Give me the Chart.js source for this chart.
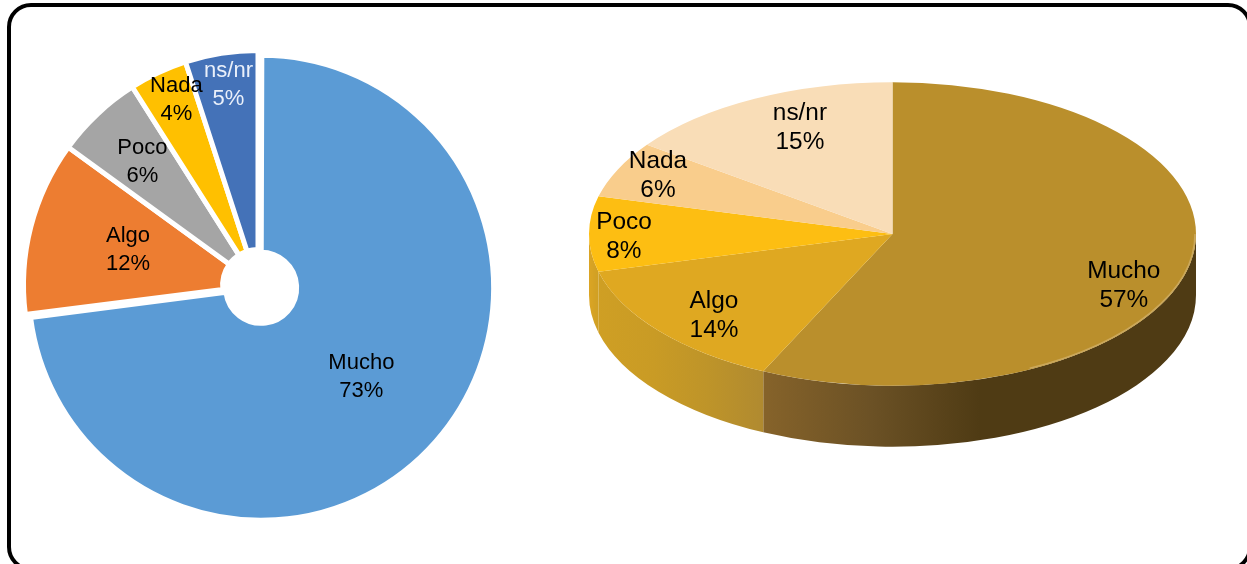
<!DOCTYPE html>
<html>
<head>
<meta charset="utf-8">
<script src="https://cdn.jsdelivr.net/npm/chart.js@4"></script>
<style>
  html, body { margin: 0; padding: 0; background: #fff; overflow: hidden; width: 1247px; height: 564px; }
  #marco { position: absolute; left: 7px; top: 3px; width: 1237px; height: 560px; border: 4px solid #000; border-radius: 24px; }
  #c1, #c2 { position: absolute; }
  #c1 { left: 8px; top: 14px; }
  #c2 { left: 573px; top: 14px; }
</style>
</head>
<body>
<div id="marco"></div>
<canvas id="c1" width="500" height="542"></canvas>
<canvas id="c2" width="639" height="440"></canvas>
<script>
// grafica izquierda
const categorias1 = ["Mucho", "Algo", "Poco", "Nada", "ns/nr"];
const valores1 = [73, 12, 6, 4, 5];
const colores1 = ["#5B9BD5", "#ED7D31", "#A5A5A5", "#FFC000", "#4472B8"];
const colorTexto1 = ["#000", "#000", "#000", "#000", "#EAF0FA"];

// grafica derecha (3D)
const categorias2 = ["Mucho", "Algo", "Poco", "Nada", "ns/nr"];
const valores2 = [57, 14, 8, 6, 15];
const colores2 = ["#BA8F2C", "#DFA821", "#FDBE12", "#F9CD8C", "#F9DDB7"];
// colores de la pared, de izquierda a derecha
const lados2 = [
  ["#86632A", "#6B5125", "#4F3B14", "#4F3B14", "#4F3B14"],
  ["#CF9F24", "#C99B25", "#BE9429", "#B08A30"],
  ["#DBA524", "#CF9F24"],
  ["#DBA524", "#DBA524"],
  ["#DBA524", "#DBA524"]
];

const familia = '"Liberation Sans", Arial, sans-serif';
const inclinacion = 0.5;
const grosor = 61;

function etiqueta(ctx, texto, x, y, color, px, salto) {
  ctx.fillStyle = color;
  ctx.font = px + "px " + familia;
  ctx.textAlign = "center";
  ctx.textBaseline = "middle";
  const partes = texto.split("\n");
  ctx.fillText(partes[0], x, y + 1 - salto);
  ctx.fillText(partes[1], x, y + 1 + salto);
}

// lugar de cada etiqueta dentro de su sector
const radioEtiqueta1 = [0.6036, 0.575, 0.723, 0.866, 0.866];
const giroEtiqueta1 = [0, 1.1, 0.2, 1.5, 0.65];

const etiquetas1 = {
  id: "etiquetas1",
  afterDatasetsUpdate(chart) {
    // el offset de Chart.js agranda el sector, aqui se le devuelve su tamano
    const mucho = chart.getDatasetMeta(0).data[0];
    mucho.outerRadius -= 6.2;
    mucho.innerRadius -= 4.1;
  },
  afterDatasetsDraw(chart) {
    const ctx = chart.ctx;
    chart.getDatasetMeta(0).data.forEach((arco, i) => {
      const medio = (arco.startAngle + arco.endAngle) / 2 + giroEtiqueta1[i] * Math.PI / 180;
      const r = arco.outerRadius * radioEtiqueta1[i];
      etiqueta(ctx, categorias1[i] + "\n" + valores1[i] + "%", arco.x + Math.cos(medio) * r, arco.y + Math.sin(medio) * r, colorTexto1[i], 22, 14);
    });
  }
};

new Chart(document.getElementById("c1"), {
  type: "doughnut",
  data: {
    labels: categorias1,
    datasets: [{
      data: valores1,
      backgroundColor: colores1,
      borderColor: "#fff",
      borderWidth: 5,
      offset: [16.8, 0, 0, 0, 0]
    }]
  },
  options: {
    responsive: false,
    animation: false,
    radius: 234.5,
    cutout: "15.1%",
    plugins: { legend: { display: false }, tooltip: { enabled: false } }
  },
  plugins: [etiquetas1]
});

const radioEtiqueta2 = [0.833, 0.794, 0.885, 0.865, 0.768];
const giroEtiqueta2 = [11.2, -2.6, -0.9, 1.5, 3.6];

const inclinar = {
  id: "inclinar",
  beforeDatasetsDraw(chart) {
    const ctx = chart.ctx;
    const arcos = chart.getDatasetMeta(0).data;
    const cx = arcos[0].x, cy = arcos[0].y, R = arcos[0].outerRadius;
    // pared lateral
    arcos.forEach((arco, i) => {
      const a0 = Math.max(arco.startAngle, 0);
      const a1 = Math.min(arco.endAngle, Math.PI);
      if (a1 <= a0) return;
      const xa = cx + Math.cos(a0) * R, xb = cx + Math.cos(a1) * R;
      const grad = ctx.createLinearGradient(Math.min(xa, xb), 0, Math.max(xa, xb), 0);
      lados2[i].forEach((c, j) => grad.addColorStop(j / (lados2[i].length - 1), c));
      ctx.fillStyle = grad;
      ctx.beginPath();
      ctx.ellipse(cx, cy, R, R * inclinacion, 0, a0, a1);
      ctx.ellipse(cx, cy + grosor, R, R * inclinacion, 0, a1, a0, true);
      ctx.closePath();
      ctx.fill();
    });
    ctx.save();
    ctx.translate(cx, cy);
    ctx.scale(1, inclinacion);
    ctx.translate(-cx, -cy);
  },
  afterDatasetsDraw(chart) {
    const ctx = chart.ctx;
    ctx.restore();
    const arcos = chart.getDatasetMeta(0).data;
    // brillo en el borde derecho de la tapa
    ctx.strokeStyle = "#CBA85C";
    ctx.lineWidth = 1.5;
    ctx.beginPath();
    ctx.ellipse(arcos[0].x, arcos[0].y, arcos[0].outerRadius - 1, arcos[0].outerRadius * inclinacion - 1, 0, 0, 1.1);
    ctx.stroke();
    arcos.forEach((arco, i) => {
      const medio = (arco.startAngle + arco.endAngle) / 2 + giroEtiqueta2[i] * Math.PI / 180;
      const r = arco.outerRadius * radioEtiqueta2[i];
      etiqueta(ctx, categorias2[i] + "\n" + valores2[i] + "%", arco.x + Math.cos(medio) * r, arco.y + Math.sin(medio) * r * inclinacion, "#000", 24.4, 14.5);
    });
  }
};

new Chart(document.getElementById("c2"), {
  type: "pie",
  data: {
    labels: categorias2,
    datasets: [{
      data: valores2,
      backgroundColor: colores2,
      borderWidth: 0,
      clip: false
    }]
  },
  options: {
    responsive: false,
    animation: false,
    radius: 303.5,
    plugins: { legend: { display: false }, tooltip: { enabled: false } }
  },
  plugins: [inclinar]
});
</script>
</body>
</html>
